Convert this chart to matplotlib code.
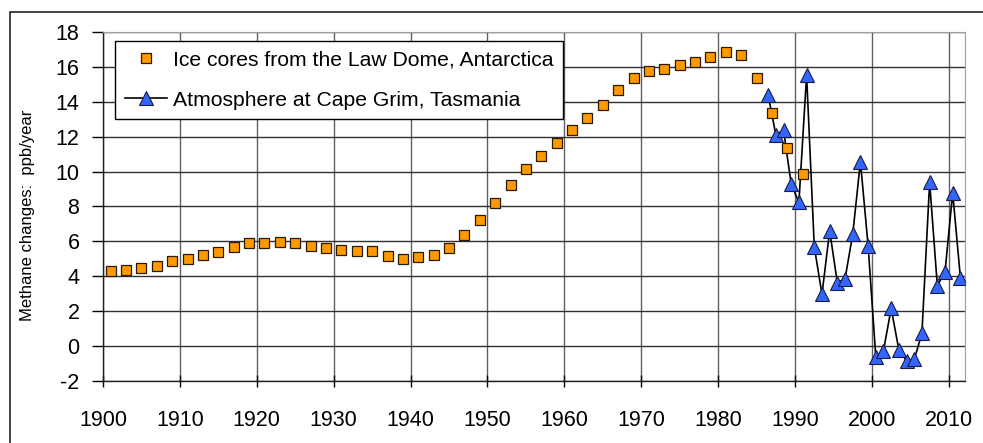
import matplotlib
matplotlib.use("Agg")
import matplotlib.pyplot as plt
from matplotlib.patches import Rectangle
import numpy as np

plt.rcParams["font.family"] = ["Liberation Sans", "DejaVu Sans"]
plt.rcParams["axes.unicode_minus"] = False

# Ice cores from the Law Dome (every second year, 1901-1991)
ice_years = list(range(1901, 1992, 2))
ice_vals = [4.30, 4.36, 4.46, 4.59, 4.86, 4.97, 5.22, 5.41, 5.70, 5.93,
            5.93, 5.97, 5.93, 5.74, 5.64, 5.53, 5.43, 5.43, 5.15, 5.01,
            5.09, 5.22, 5.60, 6.37, 7.20, 8.18, 9.21, 10.15, 10.91, 11.62,
            12.38, 13.09, 13.83, 14.66, 15.38, 15.78, 15.90, 16.11, 16.26, 16.55,
            16.87, 16.68, 15.38, 13.38, 11.37, 9.86]

# Atmosphere at Cape Grim (mid-year, 1986.5-2011.5)
grim_years = [1986.5, 1987.5, 1988.5, 1989.5, 1990.5, 1991.5, 1992.5, 1993.5,
              1994.5, 1995.5, 1996.5, 1997.5, 1998.5, 1999.5, 2000.5, 2001.5,
              2002.5, 2003.5, 2004.5, 2005.5, 2006.5, 2007.5, 2008.5, 2009.5,
              2010.5, 2011.5]
grim_vals = [14.39, 12.10, 12.38, 9.27, 8.24, 15.54, 5.70, 2.97, 6.61, 3.63,
             3.86, 6.41, 10.57, 5.75, -0.61, -0.26, 2.16, -0.22, -0.85, -0.76,
             0.73, 9.40, 3.46, 4.26, 8.79, 3.92]

x_ticks = list(range(1900, 2011, 10))
y_ticks = list(range(-2, 19, 2))

W, H = 983, 443
fig = plt.figure(figsize=(W / 100, H / 100), dpi=100)

# outer frame of the figure box
fig.patches.append(Rectangle((10 / W, -0.05), 1.2, 1 - 12 / H + 0.05,
                             transform=fig.transFigure, fill=False,
                             edgecolor="#222222", linewidth=1.2))

ax = fig.add_axes([103 / W, 1 - 381 / H, (965 - 103) / W, (381 - 32) / H])

ax.plot(grim_years, grim_vals, color="black", linewidth=1.2,
        marker="^", markersize=9.5, markerfacecolor="#3366FF",
        markeredgecolor="#1a1a40", markeredgewidth=0.8, zorder=3,
        label="Atmosphere at Cape Grim, Tasmania")
ax.plot(ice_years, ice_vals, linestyle="none", marker="s", markersize=7.5,
        markerfacecolor="#FF9900", markeredgecolor="#2a1a00",
        markeredgewidth=0.9, zorder=4,
        label="Ice cores from the Law Dome, Antarctica")

ax.set_xlim(1900, 2012.1)
ax.set_ylim(-2, 18)
ax.set_xticks(x_ticks)
ax.set_yticks(y_ticks)
ax.tick_params(axis="y", direction="out", length=8, width=1, pad=9,
               labelsize=15.5, colors="black")
ax.tick_params(axis="x", direction="inout", length=8, width=1, pad=17,
               labelsize=15.5, colors="black")

ax.grid(axis="y", color="#303030", linewidth=1.0)
ax.grid(axis="x", color="#606060", linewidth=1.0)
ax.set_axisbelow(True)

for side in ("top", "right"):
    ax.spines[side].set_color("#a0a0a0")
for side in ("left", "bottom"):
    ax.spines[side].set_color("#202020")
    ax.spines[side].set_linewidth(1.0)

fig.text(28 / W, 1 - 215 / H, "Methane changes:  ppb/year", rotation=90,
         ha="center", va="center", fontsize=12)

handles, labels = ax.get_legend_handles_labels()
leg = ax.legend(handles[::-1], labels[::-1], loc="upper left",
                bbox_to_anchor=((115 - 103) / 862, 1 - (41 - 32) / 349),
                fontsize=15.2, frameon=True, fancybox=False, framealpha=1,
                edgecolor="black", borderaxespad=0, handlelength=2.0,
                handletextpad=0.3, labelspacing=1.0, borderpad=0.45)
leg.get_frame().set_linewidth(1.0)

fig.savefig("out.png", dpi=100)
